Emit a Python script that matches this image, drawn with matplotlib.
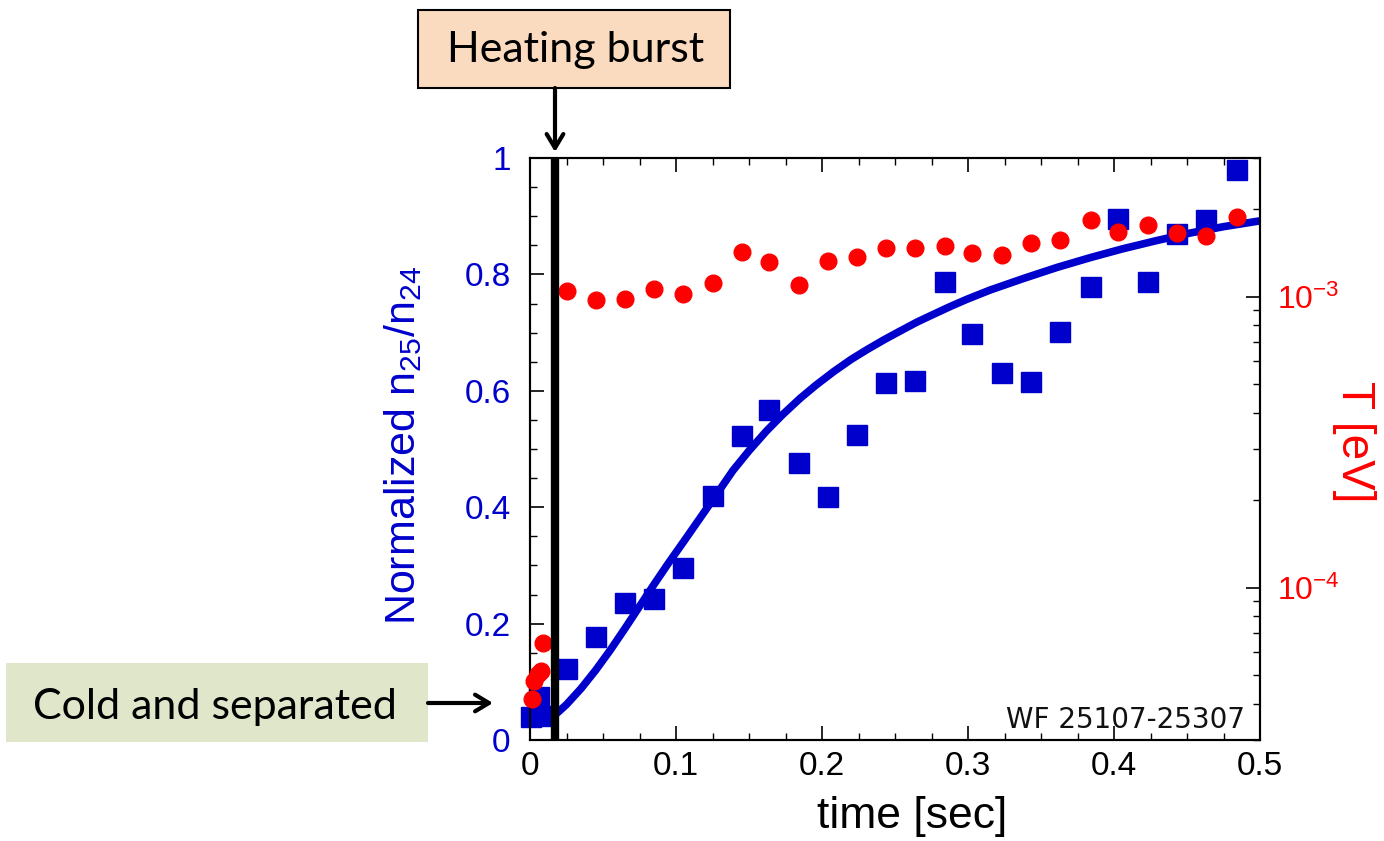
import matplotlib
matplotlib.use("Agg")
import matplotlib.pyplot as plt
from matplotlib.patches import Rectangle, FancyArrowPatch
from matplotlib.ticker import MultipleLocator, LogLocator, FixedLocator, FixedFormatter, NullFormatter

plt.rcParams['font.family'] = ['Liberation Sans', 'DejaVu Sans']
plt.rcParams['mathtext.fontset'] = 'custom'
plt.rcParams['mathtext.rm'] = 'Liberation Sans'
plt.rcParams['mathtext.it'] = 'Liberation Sans'
plt.rcParams['mathtext.bf'] = 'Liberation Sans:bold'

# Blue squares: normalized n25/n24
ratio_t = [0.0007, 0.006, 0.008, 0.025, 0.045, 0.065, 0.085, 0.105, 0.125, 0.145,
           0.164, 0.184, 0.204, 0.224, 0.244, 0.264, 0.284, 0.303, 0.323, 0.343,
           0.363, 0.384, 0.403, 0.423, 0.443, 0.463, 0.484]
ratio_y = [0.040, 0.074, 0.041, 0.122, 0.177, 0.235, 0.242, 0.296, 0.419, 0.522,
           0.567, 0.476, 0.418, 0.524, 0.613, 0.617, 0.787, 0.698, 0.631, 0.615,
           0.701, 0.778, 0.895, 0.787, 0.869, 0.893, 0.979]

# Red circles: temperature [eV]
temp_t = [0.0012, 0.003, 0.0053, 0.0073, 0.0087, 0.025, 0.045, 0.065, 0.085, 0.105,
          0.125, 0.145, 0.164, 0.184, 0.204, 0.224, 0.244, 0.264, 0.284, 0.303,
          0.323, 0.343, 0.363, 0.384, 0.403, 0.423, 0.443, 0.463, 0.484]
temp_T = [4.14e-5, 4.78e-5, 5.05e-5, 5.19e-5, 6.44e-5, 1.05e-3, 0.977e-3, 0.984e-3, 1.065e-3, 1.024e-3,
          1.117e-3, 1.428e-3, 1.318e-3, 1.10e-3, 1.33e-3, 1.372e-3, 1.473e-3, 1.473e-3, 1.497e-3, 1.416e-3,
          1.394e-3, 1.533e-3, 1.57e-3, 1.84e-3, 1.67e-3, 1.768e-3, 1.66e-3, 1.62e-3, 1.88e-3]

# Blue fit curve
fit_t = [0.018, 0.025, 0.035, 0.045, 0.055, 0.065, 0.075, 0.085, 0.095, 0.105, 0.115,
         0.125, 0.139, 0.15, 0.162, 0.173, 0.185, 0.196, 0.208, 0.22, 0.231, 0.242,
         0.253, 0.265, 0.276, 0.288, 0.299, 0.315, 0.338, 0.361, 0.384, 0.406, 0.429,
         0.452, 0.475, 0.50]
fit_y = [0.045, 0.061, 0.0885, 0.12, 0.1545, 0.1915, 0.2295, 0.2675, 0.3045, 0.340,
         0.376, 0.412, 0.463, 0.497, 0.531, 0.559, 0.587, 0.610, 0.633, 0.654, 0.671,
         0.687, 0.702, 0.718, 0.731, 0.745, 0.757, 0.773, 0.793, 0.812, 0.829, 0.844,
         0.858, 0.871, 0.882, 0.892]

burst_t = 0.017

left_ticks = [0, 0.2, 0.4, 0.6, 0.8, 1]
left_labels = ['0', '0.2', '0.4', '0.6', '0.8', '1']
x_ticks = [0, 0.1, 0.2, 0.3, 0.4, 0.5]
x_labels = ['0', '0.1', '0.2', '0.3', '0.4', '0.5']
right_ticks = [1e-4, 1e-3]
right_labels = [r'$\mathregular{10^{-4}}$', r'$\mathregular{10^{-3}}$']

BLUE = '#0000CC'
RED = '#FF0000'

fig = plt.figure(figsize=(13.84, 8.41), dpi=100)
W, H = 1384, 841
def fx(px): return px / W
def fy(py): return 1 - py / H

ax = fig.add_axes([fx(530), fy(740), fx(1260) - fx(530), fy(158) - fy(740)])
ax.set_xlim(0, 0.5)
ax.set_ylim(0, 1)

ax.plot(fit_t, fit_y, color=BLUE, lw=5.5, solid_capstyle='butt', solid_joinstyle='round', zorder=2)
ax.plot(ratio_t, ratio_y, 's', color=BLUE, ms=14, mec=BLUE, zorder=3, clip_on=False)

ax.yaxis.set_major_locator(FixedLocator(left_ticks))
ax.yaxis.set_major_formatter(FixedFormatter(left_labels))
ax.yaxis.set_minor_locator(MultipleLocator(0.05))
ax.xaxis.set_major_locator(FixedLocator(x_ticks))
ax.xaxis.set_major_formatter(FixedFormatter(x_labels))
ax.xaxis.set_minor_locator(MultipleLocator(0.025))
ax.tick_params(axis='both', which='both', direction='in', top=True, right=False)
ax.tick_params(axis='both', which='major', length=10, width=1.2)
ax.tick_params(axis='both', which='minor', length=5, width=1.0)
ax.tick_params(axis='y', labelcolor=BLUE, labelsize=24, pad=14)
ax.tick_params(axis='x', labelcolor='black', labelsize=24, pad=8)
for s in ax.spines.values():
    s.set_linewidth(1.5)

ax.text(0.523, -0.132, 'time [sec]', transform=ax.transAxes, ha='center', va='center',
        fontsize=32)
ax.text(-0.174, 0.507, r'Normalized n$_{\mathregular{25}}$/n$_{\mathregular{24}}$',
        transform=ax.transAxes, ha='center', va='center', rotation=90, fontsize=31, color=BLUE)

ax2 = ax.twinx()
ax2.set_yscale('log')
ax2.set_ylim(3e-5, 3e-3)
ax2.plot(temp_t, temp_T, 'o', color=RED, ms=12, mec=RED, zorder=4, clip_on=False)
ax2.yaxis.set_major_locator(FixedLocator(right_ticks))
ax2.yaxis.set_major_formatter(FixedFormatter(right_labels))
ax2.yaxis.set_minor_locator(LogLocator(base=10, subs=range(2, 10)))
ax2.yaxis.set_minor_formatter(NullFormatter())
ax2.tick_params(axis='y', which='both', direction='in')
ax2.tick_params(axis='y', which='major', length=10, width=1.2, labelsize=23, labelcolor=RED, pad=12)
ax2.tick_params(axis='y', which='minor', length=5, width=1.0)
ax2.text(1.129, 0.512, 'T [eV]', transform=ax2.transAxes, ha='center', va='center',
         rotation=-90, fontsize=33, color=RED)
for s in ax2.spines.values():
    s.set_linewidth(1.5)

# black vertical burst line
ax2.axvline(burst_t, color='black', lw=6, zorder=5)

ax.text(0.979, 0.034, 'WF 25107-25307', transform=ax.transAxes, ha='right', va='center',
        fontsize=20, color='#111111', family=['DejaVu Sans'])

# Annotation boxes
fig.add_artist(Rectangle((fx(418), fy(88)), fx(730) - fx(418), fy(10) - fy(88),
                         transform=fig.transFigure, facecolor='#FBDBBF', edgecolor='black', lw=1.5))
fig.text(fx(576), fy(50), 'Heating burst', ha='center', va='center', fontsize=31,
         family=['Lato', 'DejaVu Sans'])
fig.add_artist(FancyArrowPatch((fx(555), fy(88)), (fx(555), fy(152)), transform=fig.transFigure,
                               arrowstyle='->,head_length=10,head_width=6', lw=3, color='black',
                               mutation_scale=1, shrinkA=0, shrinkB=0))

fig.add_artist(Rectangle((fx(6), fy(742)), fx(428) - fx(6), fy(663) - fy(742),
                         transform=fig.transFigure, facecolor='#DFE6C9', edgecolor='none'))
fig.text(fx(215), fy(707), 'Cold and separated', ha='center', va='center', fontsize=31,
         family=['Lato', 'DejaVu Sans'])
fig.add_artist(FancyArrowPatch((fx(428), fy(703)), (fx(493), fy(703)), transform=fig.transFigure,
                               arrowstyle='->,head_length=10,head_width=6', lw=3, color='black',
                               mutation_scale=1, shrinkA=0, shrinkB=0))

fig.savefig('out.png', dpi=100)
